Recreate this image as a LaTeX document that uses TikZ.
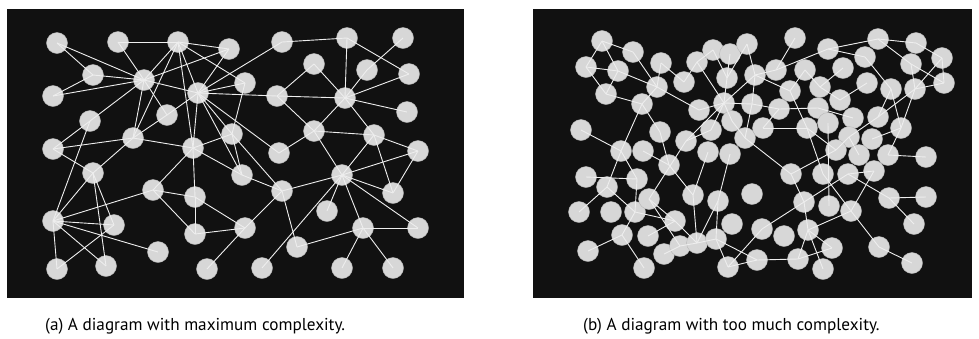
\documentclass[tikz,border=0pt]{standalone}
\usepackage{fontspec}
\setmainfont{PT Sans}
\definecolor{bgc}{HTML}{111111}
\definecolor{ndc}{HTML}{D7D7D7}
\definecolor{edc}{HTML}{EEEEEE}
\begin{document}
\begin{tikzpicture}[x=1pt,y=-1pt,
  dot/.style={circle,fill=ndc,draw=ndc!85!black,line width=0.4pt,minimum size=21pt,inner sep=0pt},
  edge/.style={draw=edc,line width=0.9pt},
  captext/.style={font=\fontsize{17.2}{20}\selectfont,anchor=base west,inner sep=0pt}]
\useasboundingbox (0,0) rectangle (979,338);
\fill[white] (0,0) rectangle (979,338);
\fill[bgc] (7,9) rectangle (464,298);
\fill[bgc] (533,9) rectangle (972,298);
% left panel nodes
\foreach \n/\x/\y in {a1/57/43,a2/118/42,a3/178/42,a4/229/49,a5/93/75,a6/53/96,a7/144/80,a8/198/93,a9/167/115,a10/90/121,
a11/133/138,a12/193/148,a13/53/149,a14/232/134,a15/282/42,a16/347/38,a17/403/38,a18/314/64,a19/367/70,a20/409/74,
a21/245/83,a22/277/96,a23/345/98,a24/407/112,a25/314/131,a26/374/135,a27/418/151,a28/279/153,a29/242/175,a30/282/191,
a31/342/175,a32/393/193,a33/327/211,a34/245/228,a35/363/228,a36/418/228,a37/297/247,a38/262/268,a39/342/268,a40/393/268,
a41/93/173,a42/153/190,a43/195/197,a44/53/221,a45/114/225,a46/195/234,a47/158/252,a48/57/269,a49/106/266,a50/207/269}
  \node[dot] (\n) at (\x,\y) {};
% right panel nodes
\foreach \n/\x/\y in {b1/602/41,b2/633/52,b3/586/67,b4/618/71,b5/661/63,b6/697/62,b7/713/50,b8/730/54,b9/747/44,b10/684/82,
b11/657/87,b12/606/94,b13/727/78,b14/755/75,b15/642/104,b16/699/110,b17/724/103,b18/752/104,b19/732/121,b20/711/130,
b21/745/138,b22/581/130,b23/660/132,b24/686/141,b25/621/151,b26/643/151,b27/708/152,b28/730/154,b29/795/38,b30/828/49,
b31/878/39,b32/916/43,b33/865/57,b34/942/58,b35/911/64,b36/776/70,b37/805/70,b38/843/68,b39/944/83,b40/790/91,
b41/820/87,b42/867/83,b43/891/89,b44/915/89,b45/779/109,b46/818/108,b47/840/100,b48/853/118,b49/878/117,b50/763/128,
b51/807/128,b52/828/123,b53/849/137,b54/872/139,b55/901/128,b56/836/150,b57/859/155,b58/888/155,b59/926/157,b60/586/177,
b61/607/187,b62/637/179,b63/669/165,b64/693/195,b65/718/201,b66/579/212,b67/611/212,b68/635/212,b69/649/199,b70/675/221,
b71/732/224,b72/622/235,b73/648/236,b74/664/254,b75/680/246,b76/697/243,b77/716/239,b78/588/251,b79/644/268,b80/728/267,
b81/791/174,b82/823/174,b83/848/174,b84/874/171,b85/752/194,b86/804/202,b87/829/206,b88/851/211,b89/889/198,b90/926/197,
b91/914/224,b92/762/229,b93/784/236,b94/808/230,b95/832/248,b96/757/260,b97/798/259,b98/823/269,b99/879/247,b100/912/263}
  \node[dot] (\n) at (\x,\y) {};
% left panel edges
\foreach \u/\v in {a1/a5,a1/a7,a5/a7,a5/a6,a6/a7,a2/a3,a2/a7,a3/a7,a3/a4,a3/a8,a3/a12,a3/a11,a3/a21,a4/a8,a4/a7,a7/a8,
a7/a9,a7/a10,a7/a11,a8/a9,a8/a12,a8/a14,a8/a15,a8/a21,a8/a22,a8/a28,a8/a29,a10/a13,a13/a11,a11/a9,a11/a12,a12/a14,
a13/a41,a10/a44,a11/a41,a41/a44,a41/a45,a41/a49,a44/a42,a44/a45,a44/a47,a44/a48,a44/a49,a45/a48,a42/a43,a42/a46,
a42/a12,a43/a12,a43/a46,a43/a34,a46/a34,a12/a29,a50/a34,a14/a29,a14/a30,a29/a30,a30/a31,a30/a34,a30/a37,a25/a31,
a26/a31,a31/a27,a31/a32,a31/a33,a31/a35,a31/a36,a31/a38,a32/a27,a26/a32,a35/a36,a35/a39,a35/a40,a35/a37,a15/a16,
a16/a23,a16/a20,a17/a19,a19/a23,a20/a23,a23/a24,a23/a22,a23/a18,a18/a22,a23/a25,a23/a26,a22/a25,a25/a26,a25/a28,
a26/a27,a21/a14}
  \draw[edge] (\u.center) -- (\v.center);
% right panel edges
\foreach \u/\v in {b1/b2,b1/b3,b1/b4,b3/b4,b3/b12,b4/b12,b4/b11,b2/b11,b12/b15,b11/b15,b5/b11,b5/b10,b11/b16,b6/b10,
b6/b17,b7/b13,b8/b13,b13/b17,b9/b13,b14/b17,b15/b25,b22/b25,b16/b17,b17/b18,b17/b19,b17/b20,b17/b24,b20/b24,b23/b63,
b26/b63,b24/b69,b6/b7,b15/b23,b19/b21,b18/b21,b18/b14,b28/b65,b27/b64,b63/b64,
b29/b36,b30/b36,b30/b31,b30/b33,b31/b32,b31/b35,b32/b34,b35/b39,b34/b39,b34/b44,b35/b44,b39/b44,b33/b43,b38/b41,
b14/b36,b37/b40,b37/b41,b14/b40,b40/b51,b45/b46,b41/b47,b47/b42,b43/b49,b44/b49,b44/b55,b43/b55,b49/b53,b55/b54,
b46/b48,b50/b45,b50/b51,b51/b56,b53/b56,b53/b57,b58/b59,b55/b58,b18/b45,b9/b14,
b25/b61,b25/b62,b60/b62,b61/b68,b62/b68,b68/b72,b66/b61,b69/b70,b69/b75,b68/b70,b64/b76,b70/b76,b65/b76,b65/b77,
b72/b78,b72/b79,b73/b70,b74/b75,b75/b76,b76/b77,b77/b80,b77/b96,b80/b92,
b21/b81,b81/b86,b81/b56,b51/b82,b82/b88,b83/b86,b84/b88,b83/b89,b89/b90,b89/b91,b86/b92,b86/b94,b88/b94,b88/b99,
b99/b100,b94/b95,b94/b97,b94/b98,b96/b97,b97/b95,b80/b96,b52/b87,b83/b84}
  \draw[edge] (\u.center) -- (\v.center);
\node[captext] (capa) at (45,330) {(a) A diagram with maximum complexity.};
\node[captext] (capb) at (583,330) {(b) A diagram with too much complexity.};
\end{tikzpicture}
\end{document}
